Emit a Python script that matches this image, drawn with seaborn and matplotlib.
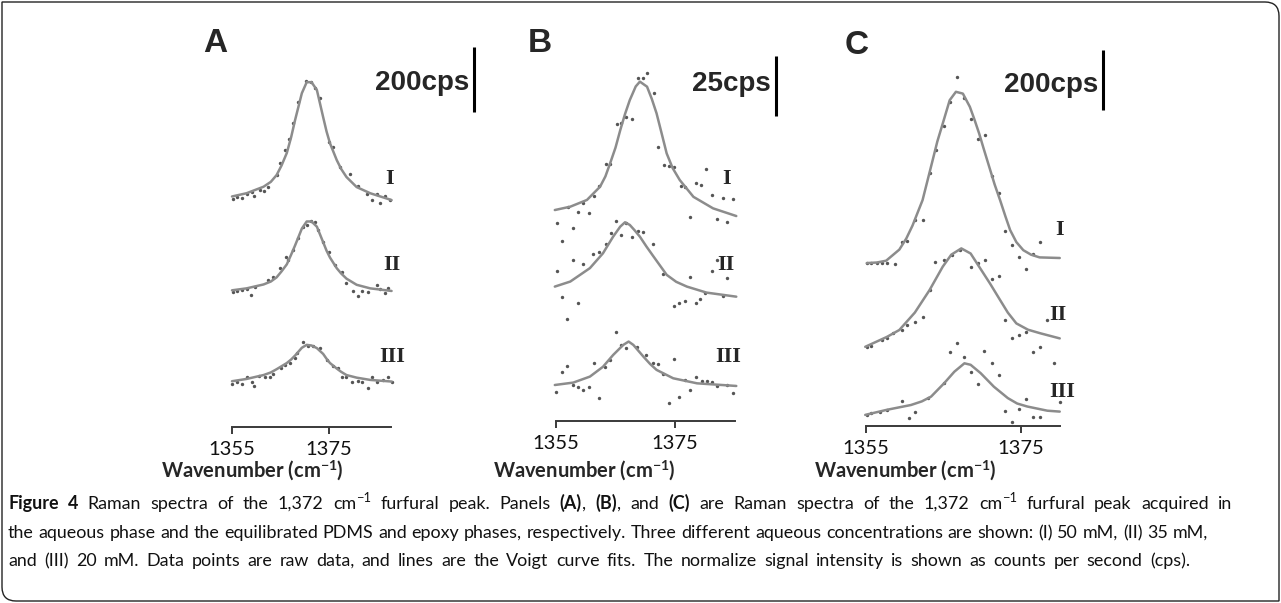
import numpy as np
import matplotlib.pyplot as plt
import seaborn as sns
from matplotlib.path import Path
from matplotlib.patches import PathPatch

sns.set_theme(style="white")
plt.rcParams["font.family"] = ["Lato", "DejaVu Sans"]
plt.rcParams["mathtext.fontset"] = "custom"
plt.rcParams["mathtext.rm"] = "Lato"
plt.rcParams["mathtext.bf"] = "Lato:bold"
plt.rcParams["mathtext.it"] = "Lato:italic"

W, H = 1281, 603

# ---------------- data: wavenumber (cm-1) and cps above each trace baseline ----------------
# Panel A (aqueous phase)
a_fit_x = [1355.0, 1358.0, 1361.5, 1363.0, 1364.2, 1365.2, 1366.3, 1367.2, 1368.0, 1369.4,
           1370.4, 1371.4, 1372.5, 1373.8, 1374.5, 1375.2, 1376.6, 1377.5, 1378.6, 1380.7,
           1383.5, 1387.9]
a_fit_i = [5, 15, 35, 50, 71, 100, 139, 188, 240, 323, 357, 357, 333, 249, 205, 169, 117, 90, 65, 34,
           15, -6]
a_fit_ii = [2, 8, 20, 29, 42, 60, 82, 112, 140, 192, 214, 214, 198, 150, 124, 103, 70, 54, 38, 19,
            8, 0]
a_fit_iii = [1, 8, 20, 28, 38, 47, 57, 68, 80, 104, 113, 111, 103, 85, 70, 57, 40, 30, 20, 12, 5, 0]

a_pts_i_x = [1355.3, 1356.1, 1357.0, 1358.0, 1359.1, 1359.5, 1360.8, 1361.5, 1362.5, 1364.2,
             1364.9, 1365.9, 1366.8, 1367.6, 1368.7, 1370.3, 1371.2, 1372.1, 1373.1, 1374.9,
             1375.9, 1377.3, 1379.3, 1381.0, 1382.8, 1383.8, 1384.8, 1385.5, 1386.5, 1387.6]
a_pts_i_y = [-4, 2, 1, 14, 19, 6, 25, 22, 35, 71, 107, 148, 181, 230, 297, 361, 358, 338, 307, 173,
             158, 96, 74, 38, 14, -6, 14, -16, 7, -6]
a_pts_ii_x = [1355.3, 1356.1, 1357.0, 1358.0, 1358.9, 1359.7, 1362.5, 1363.5, 1364.9, 1366.1,
              1366.6, 1367.6, 1368.7, 1369.7, 1370.4, 1371.3, 1372.1, 1372.8, 1373.8, 1374.9,
              1376.2, 1377.6, 1378.6, 1380.0, 1381.0, 1381.9, 1383.1, 1384.8, 1385.5, 1386.5, 1387.2]
a_pts_ii_y = [-2, 1, 3, 5, -12, 13, 34, 44, 70, 104, 95, 126, 162, 196, 203, 216, 213, 188, 152, 121,
              80, 59, 24, 1, -15, 1, -2, 18, 5, -5, 8]
a_pts_iii_x = [1355.1, 1356.0, 1357.0, 1358.0, 1359.1, 1359.5, 1360.6, 1361.8, 1362.8, 1363.4,
               1365.2, 1365.9, 1367.0, 1368.0, 1368.5, 1369.7, 1370.7, 1371.8, 1373.1, 1374.5,
               1375.9, 1376.9, 1377.6, 1378.6, 1379.7, 1381.0, 1381.9, 1383.1, 1383.8, 1384.8,
               1386.2, 1387.2, 1387.9]
a_pts_iii_y = [-7, 0, -7, 15, -2, -13, 18, 15, 14, 24, 41, 51, 57, 72, 87, 123, 110, 108, 103, 67,
               48, 41, 15, 14, 0, 3, 0, -20, 15, 0, 5, 14, 0]
a_offsets = [705, 419, 140]
a_bar = 200

# Panel B (PDMS phase)
b_fit_i_x = [1354.8, 1357.4, 1360.2, 1362.4, 1363.3, 1364.1, 1365.0, 1365.8, 1366.6, 1367.4,
             1368.4, 1369.1, 1370.3, 1371.1, 1371.9, 1372.8, 1373.6, 1374.6, 1375.8, 1378.1,
             1381.4, 1385.3]
b_fit_i = [2.5, 3.9, 6.7, 12.2, 16.5, 22.0, 28.5, 35.8, 42.5, 48.3, 54.0, 56.0, 53.9, 48.8, 42.8,
           34.0, 26.1, 20.0, 15.0, 8.0, 3.2, 0.0]
b_fit_ii_x = [1354.8, 1357.4, 1360.7, 1362.9, 1364.6, 1365.8, 1366.6, 1367.4, 1368.2, 1369.1,
              1370.2, 1371.4, 1373.6, 1375.2, 1377.0, 1380.3, 1385.3]
b_fit_ii = [4.3, 6.4, 12.0, 18.2, 25.1, 29.3, 31.1, 30.0, 27.8, 25.1, 21.0, 16.8, 9.2, 6.3, 4.3, 1.8,
            0.1]
b_fit_iii_x = [1354.8, 1357.9, 1360.7, 1362.9, 1364.6, 1366.3, 1367.2, 1368.0, 1369.7, 1370.8,
               1371.9, 1374.7, 1378.7, 1385.3]
b_fit_iii = [0.4, 1.4, 3.9, 8.0, 12.9, 17.1, 18.5, 17.1, 12.2, 9.2, 6.7, 3.2, 1.1, 0.0]

b_pts_i_x = [1357.1, 1358.7, 1359.6, 1360.6, 1361.4, 1362.3, 1363.4, 1364.1, 1365.2, 1365.9,
             1366.8, 1367.7, 1368.7, 1369.6, 1370.3, 1371.4, 1372.2, 1373.2, 1374.0, 1374.8,
             1376.0, 1376.7, 1377.6, 1378.5, 1379.3, 1380.2, 1381.2, 1382.1, 1383.0, 1383.8, 1384.7]
b_pts_i_y = [3.9, 1.8, 5.5, 1.4, 8.3, 12.6, 21.7, 21.7, 38.3, 38.9, 41.1, 40.5, 57.4, 57.4, 59.5,
             51.4, 28.9, 21.3, 20.8, 20.5, 12.5, 12.2, -0.3, 13.9, 13.0, 19.6, 8.8, -1.3, 7.4, -2.4, 7.1]
b_pts_ii_x = [1355.2, 1357.8, 1356.0, 1357.9, 1359.6, 1361.3, 1362.3, 1363.4, 1364.2, 1365.1,
              1365.9, 1366.8, 1367.7, 1368.7, 1369.7, 1371.3, 1355.2, 1356.0, 1358.7, 1356.9,
              1373.0, 1377.6, 1374.8, 1375.7, 1376.7, 1378.5, 1379.2, 1381.2, 1382.0, 1383.7,
              1380.0, 1383.0]
b_pts_ii_y = [30.7, 28.9, 23.5, 15.4, 13.8, 17.9, 18.9, 22.1, 26.5, 31.8, 25.8, 30.7, 25.1, 27.6,
              27.2, 22.1, 11.0, -0.1, -2.4, -9.3, 9.6, 8.2, -3.6, -2.4, -1.5, -2.4, -1.0, 11.0,
              15.4, 7.8, 1.8, 0.4]
b_pts_iii_x = [1355.0, 1356.0, 1356.8, 1357.9, 1358.7, 1359.6, 1360.6, 1361.4, 1362.3, 1363.2,
               1364.1, 1365.1, 1366.0, 1366.8, 1368.6, 1370.2, 1371.3, 1372.2, 1373.0, 1374.0,
               1374.8, 1375.7, 1376.7, 1377.6, 1378.5, 1379.5, 1380.3, 1381.2, 1382.0, 1383.7, 1384.7]
b_pts_iii_y = [-2.4, 6.0, 8.3, 0.4, -0.3, -1.7, -0.3, 9.7, -5.1, 8.0, 10.8, 22.4, 17.1, 15.7, 16.1,
               12.9, 9.7, 9.2, 5.0, -7.2, 11.1, -4.7, 2.5, -1.7, 3.6, 2.2, 2.1, 1.5, 0.1, 0.4, -3.0]
b_offsets = [85.4, 51.7, 14.6]
b_bar = 25

# Panel C (epoxy phase)
c_fit_i_x = [1355.1, 1356.4, 1357.6, 1359.3, 1360.2, 1361.0, 1362.3, 1363.6, 1364.2, 1364.9,
             1365.8, 1366.6, 1367.5, 1368.4, 1369.0, 1369.6, 1370.2, 1370.9, 1371.6, 1372.3,
             1373.0, 1373.6, 1374.4, 1375.3, 1376.3, 1377.4, 1380.0]
c_fit_i = [0, 2, 8, 45, 82, 125, 210, 343, 405, 465, 543, 571, 565, 521, 478, 432, 380, 321, 262, 210,
           155, 110, 70, 43, 28, 19, 17]
c_fit_ii_x = [1354.9, 1357.7, 1359.3, 1361.3, 1363.2, 1364.9, 1366.0, 1367.3, 1368.5, 1369.6,
              1371.0, 1372.3, 1373.3, 1374.4, 1375.9, 1377.5, 1380.0]
c_fit_ii = [1, 34, 57, 115, 190, 268, 308, 329, 312, 268, 212, 157, 115, 79, 58, 46, 29]
c_fit_iii_x = [1354.9, 1357.7, 1360.8, 1362.2, 1363.4, 1365.1, 1366.4, 1367.7, 1368.5, 1369.8,
               1371.5, 1373.3, 1374.5, 1375.8, 1378.4, 1380.0]
c_fit_iii = [0, 17, 33, 45, 61, 106, 144, 172, 167, 139, 94, 56, 38, 28, 14, 11]

c_pts_i_x = [1355.1, 1355.7, 1356.4, 1357.0, 1357.7, 1358.7, 1359.6, 1360.3, 1361.3, 1362.3,
             1363.2, 1364.0, 1365.0, 1365.8, 1366.7, 1367.6, 1368.5, 1369.4, 1370.3, 1371.2,
             1372.1, 1372.9, 1373.8, 1374.8, 1375.6, 1376.5, 1377.5]
c_pts_i_y = [1, 2, 2, 2, 2, -4, 71, 74, 143, 143, 299, 376, 456, 537, 621, 549, 479, 415, 426, 290,
             235, 107, 60, 19, -18, 32, 71]
c_pts_ii_x = [1355.1, 1355.7, 1357.0, 1357.7, 1358.5, 1359.6, 1360.3, 1361.3, 1362.4, 1363.3,
              1363.9, 1365.0, 1366.1, 1367.1, 1368.5, 1369.4, 1370.3, 1371.2, 1372.1, 1372.9,
              1373.8, 1374.8, 1375.6, 1376.5, 1377.5, 1378.4, 1379.2]
c_pts_ii_y = [-1, 3, 23, 32, 46, 57, 73, 84, 101, 190, 284, 292, 307, 323, 266, 281, 292, 226, 237,
              92, 29, 40, 51, -16, -1, 92, -54]
c_pts_iii_x = [1355.1, 1355.7, 1356.8, 1357.7, 1359.6, 1360.5, 1361.3, 1363.0, 1365.0, 1365.8,
               1366.7, 1367.6, 1368.5, 1369.4, 1370.2, 1371.2, 1372.1, 1372.9, 1373.8, 1374.8,
               1375.6, 1376.5, 1377.5, 1380.0]
c_pts_iii_y = [0, 6, 11, 17, 47, -11, 11, 56, 106, 211, 241, 194, 144, 102, 214, 172, 133, 14, -22,
               19, 52, -6, -6, 44]
c_offsets = [543, 263, 37]
c_bar = 200

tick_values = [1355, 1375]
numerals = ["I", "II", "III"]
panel_letters = ["A", "B", "C"]
xlabel = r"Wavenumber (cm$^{\mathbf{-1}}$)"

# caption runs: (text, weight, superscript)
caption_line1 = [
    ("Figure 4", "bold", False), (" Raman spectra of the 1,372 cm", "normal", False),
    ("\u22121", "normal", True), (" furfural peak. Panels ", "normal", False),
    ("(A)", "bold", False), (", ", "normal", False), ("(B)", "bold", False),
    (", and ", "normal", False), ("(C)", "bold", False),
    (" are Raman spectra of the 1,372 cm", "normal", False), ("\u22121", "normal", True),
    (" furfural peak acquired in", "normal", False),
]
caption_line2 = [("the aqueous phase and the equilibrated PDMS and epoxy phases, respectively. "
                  "Three different aqueous concentrations are shown: (I) 50 mM, (II) 35 mM,",
                  "normal", False)]
caption_line3 = [("and (III) 20 mM. Data points are raw data, and lines are the Voigt curve fits. "
                  "The normalize signal intensity is shown as counts per second (cps).",
                  "normal", False)]

# ---------------- layout (pixels in the 1281x603 image) ----------------
layout = [
    dict(x0=232, ppu=4.85, y0=427, ppc=1 / 3.08, end=1387.8, left=200, right=490,
         bar_x=474, bar_bot=112, bar_text_y=83, letter=(215, 43), label_x=252,
         num_pos=[(390, 179), (392, 265), (392, 357)]),
    dict(x0=556, ppu=5.95, y0=421, ppc=2.4, end=1385.1, left=530, right=800,
         bar_x=776, bar_bot=116, bar_text_y=84, letter=(540, 43), label_x=584,
         num_pos=[(727, 179), (726, 265), (728, 357)]),
    dict(x0=866, ppu=7.75, y0=426, ppc=0.3, end=1380.0, left=840, right=1130,
         bar_x=1103, bar_bot=110, bar_text_y=85, letter=(857, 45), label_x=905,
         num_pos=[(1060, 230), (1058, 315), (1062, 392)]),
]
caption_ends = [1232, 1208, 1190]
caption_baselines = [509, 538, 566]

fits = [
    [(a_fit_x, a_fit_i), (a_fit_x, a_fit_ii), (a_fit_x, a_fit_iii)],
    [(b_fit_i_x, b_fit_i), (b_fit_ii_x, b_fit_ii), (b_fit_iii_x, b_fit_iii)],
    [(c_fit_i_x, c_fit_i), (c_fit_ii_x, c_fit_ii), (c_fit_iii_x, c_fit_iii)],
]
points = [
    [(a_pts_i_x, a_pts_i_y), (a_pts_ii_x, a_pts_ii_y), (a_pts_iii_x, a_pts_iii_y)],
    [(b_pts_i_x, b_pts_i_y), (b_pts_ii_x, b_pts_ii_y), (b_pts_iii_x, b_pts_iii_y)],
    [(c_pts_i_x, c_pts_i_y), (c_pts_ii_x, c_pts_ii_y), (c_pts_iii_x, c_pts_iii_y)],
]
offsets = [a_offsets, b_offsets, c_offsets]
bars = [a_bar, b_bar, c_bar]

fig = plt.figure(figsize=(W / 100, H / 100), dpi=100)
fig.patch.set_facecolor("white")


def fx(px):
    return px / W


def fy(py):
    return 1 - py / H


top = 20
for k, p in enumerate(layout):
    ax = fig.add_axes([fx(p["left"]), fy(p["y0"]), (p["right"] - p["left"]) / W, (p["y0"] - top) / H])
    ax.set_facecolor("none")
    for (lx, ly), (sx, sy), off in zip(fits[k], points[k], offsets[k]):
        sns.lineplot(x=lx, y=np.array(ly) + off, ax=ax, color="#8c8c8c", linewidth=1.8)
        sns.scatterplot(x=sx, y=np.array(sy) + off, ax=ax, s=6, color="#555555", linewidth=0)
    ax.set_xlim(1355 + (p["left"] - p["x0"]) / p["ppu"], 1355 + (p["right"] - p["x0"]) / p["ppu"])
    ax.set_ylim(0, (p["y0"] - top) / p["ppc"])
    sns.despine(ax=ax, left=True)
    ax.spines["bottom"].set_bounds(1355, p["end"])
    ax.spines["bottom"].set_color("#3a3a3a")
    ax.spines["bottom"].set_linewidth(1.4)
    ax.set_xticks(tick_values)
    ax.set_xticklabels([str(t) for t in tick_values])
    ax.set_yticks([])
    ax.set_xlabel("")
    ax.set_ylabel("")
    ax.tick_params(axis="x", bottom=True, direction="out", length=5, width=1.4,
                   color="#3a3a3a", labelsize=14.5, pad=5, labelcolor="#111111")

    # scale bar
    wn_bar = 1355 + (p["bar_x"] - p["x0"]) / p["ppu"]
    yb = (p["y0"] - p["bar_bot"]) / p["ppc"]
    ax.plot([wn_bar, wn_bar], [yb, yb + bars[k]], color="black", linewidth=2.2,
            solid_capstyle="butt", clip_on=False)
    fig.text(fx(p["bar_x"] - 5), fy(p["bar_text_y"]), f"{bars[k]}cps", ha="right", va="center",
             family="Liberation Sans", fontweight="bold", fontsize=20)

    # panel letter, numerals, x label
    fig.text(fx(p["letter"][0]), fy(p["letter"][1]), panel_letters[k], ha="center", va="center",
             family="Liberation Sans", fontweight="bold", fontsize=24)
    for s, (nx, ny) in zip(numerals, p["num_pos"]):
        fig.text(fx(nx), fy(ny), s, ha="center", va="center", family="Liberation Serif",
                 fontweight="bold", fontsize=16)
    fig.text(fx(p["label_x"]), fy(471), xlabel, ha="center", va="center",
             fontweight="bold", fontsize=14.5)

# caption: placed word by word so bold words and superscripts sit inline,
# word gaps stretched so each line ends where the reference line ends
renderer = fig.canvas.get_renderer()


def text_width(s, size, weight):
    t = fig.text(0, 0, "|" + s + "|", fontsize=size, fontweight=weight)
    bar = fig.text(0, 0, "||", fontsize=size, fontweight=weight)
    w = t.get_window_extent(renderer).width - bar.get_window_extent(renderer).width
    t.remove()
    bar.remove()
    return w


cap_size = 12.9
for runs, base_y, x_end in zip([caption_line1, caption_line2, caption_line3],
                               caption_baselines, caption_ends):
    tokens = []
    for s, weight, sup in runs:
        for i, part in enumerate(s.split(" ")):
            if i > 0:
                tokens.append(None)
            if part:
                size = cap_size * 0.72 if sup else cap_size
                tokens.append((part, weight, sup, size, text_width(part, size, weight)))
    n_gaps = sum(1 for t in tokens if t is None)
    words_w = sum(t[4] for t in tokens if t is not None)
    gap = (x_end - 8 - words_w) / n_gaps
    x = 8
    for t in tokens:
        if t is None:
            x += gap
            continue
        part, weight, sup, size, w = t
        y = base_y - (7 if sup else 0)
        fig.text(fx(x), fy(y), part, ha="left", va="baseline", fontsize=size, fontweight=weight,
                 color="#111111")
        x += w

# figure frame: square top-left / bottom-right, rounded top-right / bottom-left
x0, y0, x1, y1, r = 0.02, 0.02, 12.79, 6.01, 0.14
verts = [(x0, y1), (x1 - r, y1), (x1, y1), (x1, y1 - r), (x1, y0), (x0 + r, y0), (x0, y0),
         (x0, y0 + r), (x0, y1)]
codes = [Path.MOVETO, Path.LINETO, Path.CURVE3, Path.CURVE3, Path.LINETO, Path.LINETO,
         Path.CURVE3, Path.CURVE3, Path.CLOSEPOLY]
frame = PathPatch(Path(verts, codes), transform=fig.dpi_scale_trans, facecolor="none",
                  edgecolor="#222222", linewidth=1.0)
fig.patches.append(frame)

fig.savefig("out.png", dpi=100)
